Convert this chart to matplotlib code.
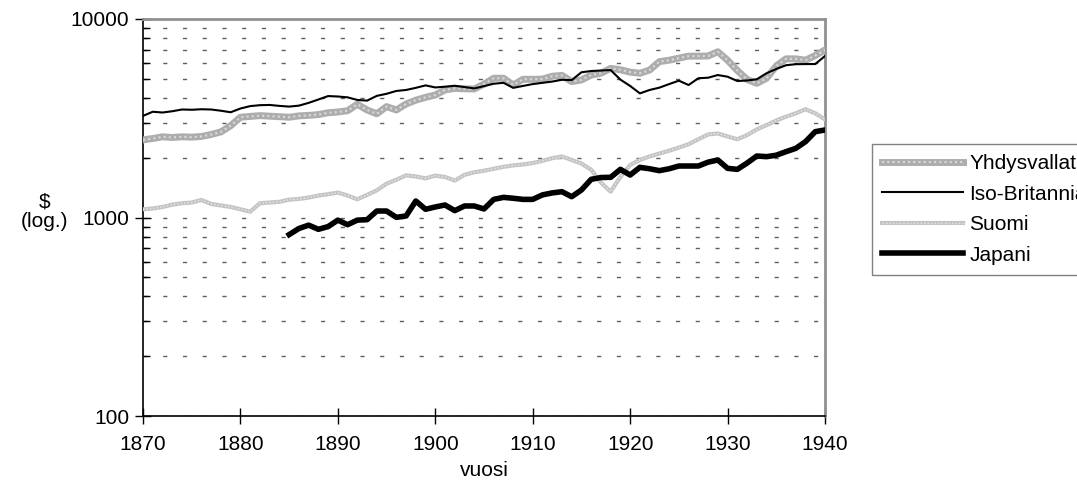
import numpy as np
import matplotlib.pyplot as plt
from matplotlib.ticker import LogLocator, NullFormatter, FixedLocator
from matplotlib.legend_handler import HandlerTuple

plt.rcParams['font.family'] = ['Liberation Sans', 'DejaVu Sans']

years = list(range(1870, 1941))
years_jp = list(range(1885, 1941))

usa = [2460, 2500, 2550, 2530, 2550, 2540, 2560, 2620, 2700, 2900,
       3200, 3230, 3260, 3240, 3220, 3200, 3250, 3270, 3300, 3370,
       3400, 3450, 3720, 3480, 3330, 3620, 3480, 3730, 3900, 4030,
       4140, 4390, 4470, 4450, 4440, 4700, 5030, 5030, 4650, 4970,
       4970, 4980, 5150, 5200, 4840, 4930, 5220, 5330, 5640, 5550,
       5400, 5330, 5530, 6100, 6200, 6350, 6500, 6500, 6510, 6840,
       6200, 5500, 4960, 4740, 5030, 5800, 6300, 6300, 6200, 6550,
       6980]

uk = [3250, 3410, 3380, 3430, 3500, 3490, 3510, 3500, 3450, 3390,
      3540, 3640, 3680, 3690, 3650, 3620, 3660, 3780, 3930, 4090,
      4070, 4030, 3910, 3880, 4100, 4200, 4340, 4390, 4500, 4630,
      4520, 4560, 4610, 4540, 4470, 4590, 4720, 4770, 4500, 4600,
      4700, 4770, 4840, 4940, 4920, 5390, 5470, 5500, 5530, 4950,
      4600, 4220, 4390, 4510, 4700, 4890, 4650, 5030, 5060, 5220,
      5120, 4870, 4900, 4970, 5330, 5600, 5850, 5920, 5930, 5930,
      6510]

fin = [1100, 1110, 1130, 1160, 1180, 1190, 1225, 1170, 1150, 1130,
       1100, 1070, 1180, 1190, 1200, 1230, 1240, 1260, 1290, 1310,
       1335, 1290, 1235, 1300, 1370, 1480, 1550, 1630, 1610, 1575,
       1625, 1600, 1535, 1640, 1690, 1720, 1760, 1800, 1830, 1850,
       1880, 1930, 1990, 2030, 1950, 1870, 1740, 1500, 1350, 1600,
       1840, 1950, 2030, 2100, 2170, 2250, 2340, 2480, 2620, 2650,
       2560, 2480, 2600, 2780, 2920, 3080, 3220, 3350, 3510, 3350,
       3120]

jpn = [820, 880, 915, 872, 900, 970, 920, 970, 975, 1078,
       1078, 1002, 1018, 1211, 1100, 1130, 1156, 1083, 1143, 1143,
       1104, 1234, 1263, 1250, 1234, 1234, 1300, 1330, 1349, 1273,
       1376, 1557, 1590, 1594, 1748, 1637, 1789, 1760, 1722, 1760,
       1817, 1817, 1817, 1900, 1949, 1769, 1748, 1880, 2041, 2025,
       2060, 2146, 2230, 2410, 2706, 2760]

labels = ['Yhdysvallat', 'Iso-Britannia', 'Suomi', 'Japani']
fs = 15

fig = plt.figure(figsize=(10.77, 4.92), dpi=100)
ax = fig.add_axes([143 / 1077, 1 - 416 / 492, (825 - 143) / 1077, (416 - 19) / 492])

# textured grey lines: base colour plus lighter dotted overlay
u1, = ax.plot(years, usa, color='#adadad', lw=5, solid_joinstyle='round', zorder=3)
u2, = ax.plot(years, usa, color='#dadada', lw=1.5, dashes=(1, 1.5), zorder=3)
b1, = ax.plot(years, uk, color='black', lw=1.5, zorder=4)
f1, = ax.plot(years, fin, color='#c4c4c4', lw=3, solid_joinstyle='round', zorder=3)
f2, = ax.plot(years, fin, color='#e8e8e8', lw=1, dashes=(1, 1.5), zorder=3)
j1, = ax.plot(years_jp, jpn, color='black', lw=4, solid_joinstyle='round', zorder=5)

ax.set_yscale('log')
ax.set_ylim(100, 10000)
ax.set_xlim(1870, 1940)
ax.set_xticks(range(1870, 1941, 10))
ax.yaxis.set_major_locator(FixedLocator([100, 1000, 10000]))
ax.set_yticklabels(['100', '1000', '10000'])
ax.yaxis.set_minor_locator(LogLocator(base=10, subs=np.arange(2, 10)))
ax.yaxis.set_minor_formatter(NullFormatter())

ax.tick_params(axis='both', which='major', direction='inout', length=12, width=1,
               labelsize=fs, colors='black')
ax.tick_params(axis='x', pad=8)
ax.tick_params(axis='y', pad=4)
ax.tick_params(axis='y', which='minor', direction='in', length=5, width=1)

ax.grid(True, axis='y', which='both', color='#606060', lw=1, dashes=(3, 11.2))
ax.set_axisbelow(True)

for s in ['left', 'bottom']:
    ax.spines[s].set_color('black')
    ax.spines[s].set_linewidth(1.2)
for s in ['top', 'right']:
    ax.spines[s].set_color('#909090')
    ax.spines[s].set_linewidth(2)

# legend runs off the right edge, as in the original chart
leg = fig.legend([(u1, u2), b1, (f1, f2), j1], labels,
                 handler_map={tuple: HandlerTuple(ndivide=1)},
                 loc='lower left', bbox_to_anchor=(872 / 1077, 1 - 275 / 492),
                 bbox_transform=fig.transFigure, borderaxespad=0,
                 fontsize=fs, handlelength=3.85, handletextpad=0.32,
                 labelspacing=0.55, borderpad=0.5, fancybox=False,
                 frameon=True, edgecolor='#606060')
leg.get_frame().set_linewidth(1)

fig.text(45 / 1077, 1 - 212 / 492, '$\n(log.)', ha='center', va='center',
         fontsize=fs, linespacing=1.05)
fig.text(484 / 1077, 1 - 470 / 492, 'vuosi', ha='center', va='center', fontsize=fs)

fig.savefig('out.png', dpi=100)
